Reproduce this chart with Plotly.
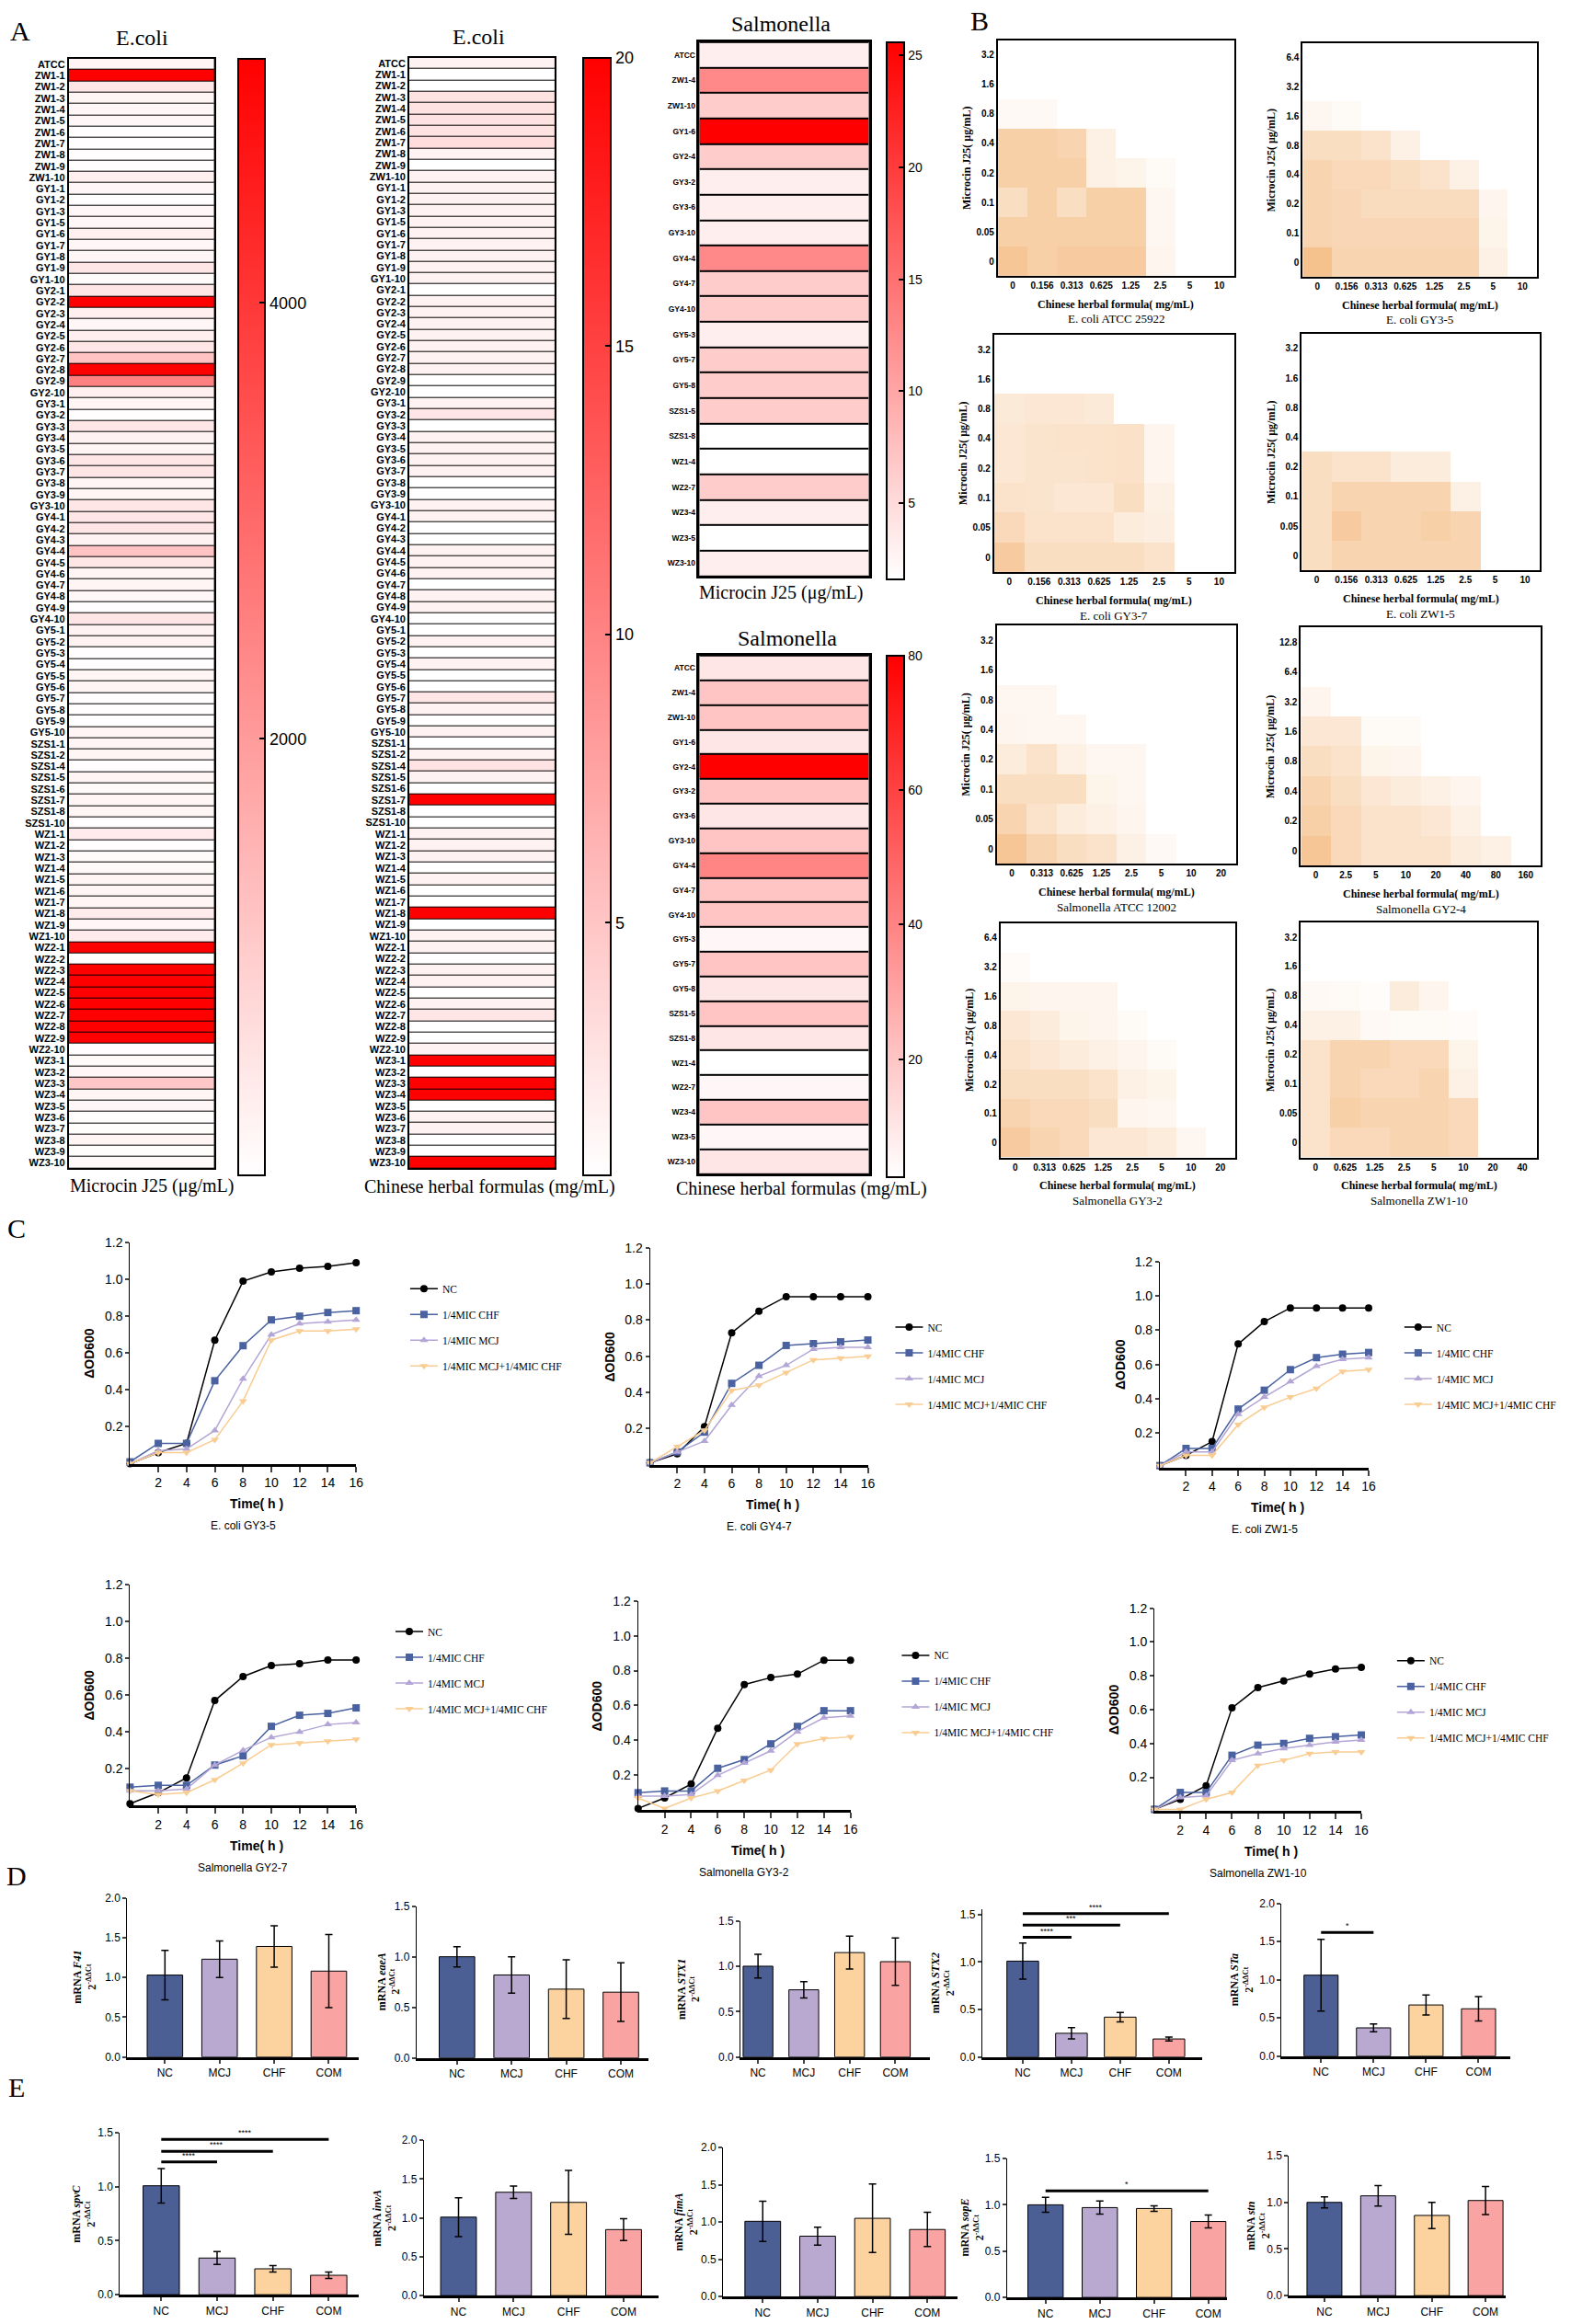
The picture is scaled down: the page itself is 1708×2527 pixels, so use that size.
import plotly.graph_objects as go

W, H = 1708, 2527

SERIF = "Liberation Serif, Times New Roman, serif"
SANS = "Liberation Sans, Arial, sans-serif"
NARROW = "Liberation Sans Narrow, Arial Narrow, Liberation Sans, sans-serif"

# ---------------- Panel A : MIC heat maps ----------------
ecoli_strains = ["ATCC", "ZW1-1", "ZW1-2", "ZW1-3", "ZW1-4", "ZW1-5", "ZW1-6", "ZW1-7", "ZW1-8", "ZW1-9", "ZW1-10",
                 "GY1-1", "GY1-2", "GY1-3", "GY1-5", "GY1-6", "GY1-7", "GY1-8", "GY1-9", "GY1-10",
                 "GY2-1", "GY2-2", "GY2-3", "GY2-4", "GY2-5", "GY2-6", "GY2-7", "GY2-8", "GY2-9", "GY2-10",
                 "GY3-1", "GY3-2", "GY3-3", "GY3-4", "GY3-5", "GY3-6", "GY3-7", "GY3-8", "GY3-9", "GY3-10",
                 "GY4-1", "GY4-2", "GY4-3", "GY4-4", "GY4-5", "GY4-6", "GY4-7", "GY4-8", "GY4-9", "GY4-10",
                 "GY5-1", "GY5-2", "GY5-3", "GY5-4", "GY5-5", "GY5-6", "GY5-7", "GY5-8", "GY5-9", "GY5-10",
                 "SZS1-1", "SZS1-2", "SZS1-4", "SZS1-5", "SZS1-6", "SZS1-7", "SZS1-8", "SZS1-10",
                 "WZ1-1", "WZ1-2", "WZ1-3", "WZ1-4", "WZ1-5", "WZ1-6", "WZ1-7", "WZ1-8", "WZ1-9", "WZ1-10",
                 "WZ2-1", "WZ2-2", "WZ2-3", "WZ2-4", "WZ2-5", "WZ2-6", "WZ2-7", "WZ2-8", "WZ2-9", "WZ2-10",
                 "WZ3-1", "WZ3-2", "WZ3-3", "WZ3-4", "WZ3-5", "WZ3-6", "WZ3-7", "WZ3-8", "WZ3-9", "WZ3-10"]

ecoli_mcj = [200,
             5120, 500, 200, 160, 160, 40, 40, 40, 40, 320,
             160, 40, 160, 160, 320, 160, 160, 500, 100,
             500, 5120, 320, 160, 320, 500, 1200, 5120, 2560, 320,
             200, 40, 500, 260, 200, 500, 500, 200, 200, 500,
             500, 500, 260, 1200, 500, 200, 200, 160, 40, 500,
             260, 260, 40, 40, 200, 200, 40, 40, 40, 200,
             200, 200, 40, 200, 100, 200, 200, 40,
             400, 40, 100, 100, 200, 200, 200, 400, 160, 400,
             5120, 40, 5120, 5120, 5120, 5120, 5120, 5120, 5120, 40,
             100, 160, 1100, 200, 160, 60, 60, 200, 60, 100]

ecoli_chf = [1.6,
             0.625, 0.625, 2.8, 2.8, 2.8, 2.8, 3.2, 1.6, 0.625, 1.6,
             1.6, 1.6, 1.6, 1.6, 1.6, 1.6, 1.6, 1.6, 1.6,
             0.625, 1.6, 1.6, 1.6, 1.6, 1.6, 1.6, 1.6, 0.625, 0.625,
             1.6, 2.5, 0.625, 1.6, 1.6, 1.6, 1.6, 0.625, 0.625, 1.6,
             1.6, 0.625, 0.625, 1.6, 1.6, 1.6, 0.625, 1.6, 1.6, 0.625,
             0.625, 1.6, 0.625, 1.6, 0.625, 0.625, 2.5, 1.6, 0.625, 1.6,
             0.625, 1.6, 2.8, 1.6, 0.625, 20, 0.625, 0.625,
             1.6, 1.6, 1.6, 0.625, 1.6, 0.625, 0.625, 20, 0.625, 1.6,
             1.6, 0.625, 1.6, 1.6, 0.625, 1.6, 2.5, 0.625, 0.625, 1.6,
             20, 0.625, 20, 20, 0.625, 1.6, 1.6, 0.625, 0.625, 20]

salm_strains = ["ATCC", "ZW1-4", "ZW1-10", "GY1-6", "GY2-4", "GY3-2", "GY3-6", "GY3-10", "GY4-4", "GY4-7",
                "GY4-10", "GY5-3", "GY5-7", "GY5-8", "SZS1-5", "SZS1-8", "WZ1-4", "WZ2-7", "WZ3-4", "WZ3-5", "WZ3-10"]
salm_mcj = [3.2, 12.8, 6.4, 25.6, 6.4, 3.2, 3.2, 3.2, 12.8, 6.4, 6.4, 3.2, 6.4, 6.4, 6.4, 1.6, 1.6, 6.4, 3.2, 1.6, 3.2]
salm_chf = [10, 20, 20, 10, 80, 20, 10, 20, 40, 20, 20, 5, 20, 10, 20, 10, 2.5, 5, 20, 5, 10]

# ---------------- Panel B : checkerboard assays ----------------
chf_conc_a = ["0", "0.156", "0.313", "0.625", "1.25", "2.5", "5", "10"]
chf_conc_b = ["0", "0.313", "0.625", "1.25", "2.5", "5", "10", "20"]
chf_conc_c = ["0", "2.5", "5", "10", "20", "40", "80", "160"]
chf_conc_d = ["0", "0.625", "1.25", "2.5", "5", "10", "20", "40"]
mcj_conc_a = ["0", "0.05", "0.1", "0.2", "0.4", "0.8", "1.6", "3.2"]
mcj_conc_b = ["0", "0.1", "0.2", "0.4", "0.8", "1.6", "3.2", "6.4"]
mcj_conc_c = ["0", "0.2", "0.4", "0.8", "1.6", "3.2", "6.4", "12.8"]

# rows go from MCJ = 0 (bottom) upwards
grid_ecoli_atcc = [[0.60, 0.50, 0.55, 0.55, 0.55, 0.10, 0, 0],
                   [0.50, 0.50, 0.50, 0.50, 0.50, 0.08, 0, 0],
                   [0.35, 0.50, 0.35, 0.50, 0.50, 0.08, 0, 0],
                   [0.50, 0.50, 0.50, 0.15, 0.12, 0.05, 0, 0],
                   [0.50, 0.50, 0.45, 0.15, 0, 0, 0, 0],
                   [0.06, 0.06, 0, 0, 0, 0, 0, 0],
                   [0, 0, 0, 0, 0, 0, 0, 0],
                   [0, 0, 0, 0, 0, 0, 0, 0]]
grid_ecoli_gy35 = [[0.65, 0.45, 0.45, 0.45, 0.45, 0.45, 0.15, 0],
                   [0.45, 0.42, 0.42, 0.42, 0.42, 0.42, 0.12, 0],
                   [0.45, 0.42, 0.38, 0.38, 0.38, 0.38, 0.10, 0],
                   [0.45, 0.40, 0.40, 0.35, 0.30, 0.15, 0, 0],
                   [0.35, 0.35, 0.30, 0.15, 0, 0, 0, 0],
                   [0.08, 0.05, 0, 0, 0, 0, 0, 0],
                   [0, 0, 0, 0, 0, 0, 0, 0],
                   [0, 0, 0, 0, 0, 0, 0, 0]]
grid_ecoli_gy37 = [[0.55, 0.35, 0.35, 0.35, 0.35, 0.30, 0, 0],
                   [0.40, 0.30, 0.30, 0.30, 0.20, 0.18, 0, 0],
                   [0.30, 0.28, 0.25, 0.25, 0.35, 0.15, 0, 0],
                   [0.25, 0.28, 0.28, 0.30, 0.32, 0.10, 0, 0],
                   [0.25, 0.28, 0.30, 0.30, 0.32, 0.10, 0, 0],
                   [0.22, 0.25, 0.25, 0.22, 0, 0, 0, 0],
                   [0, 0, 0, 0, 0, 0, 0, 0],
                   [0, 0, 0, 0, 0, 0, 0, 0]]
grid_ecoli_zw15 = [[0.35, 0.45, 0.45, 0.45, 0.45, 0.45, 0, 0],
                   [0.35, 0.55, 0.45, 0.45, 0.50, 0.45, 0, 0],
                   [0.35, 0.45, 0.45, 0.45, 0.45, 0.15, 0, 0],
                   [0.35, 0.30, 0.30, 0.20, 0.20, 0, 0, 0],
                   [0, 0, 0, 0, 0, 0, 0, 0],
                   [0, 0, 0, 0, 0, 0, 0, 0],
                   [0, 0, 0, 0, 0, 0, 0, 0],
                   [0, 0, 0, 0, 0, 0, 0, 0]]
grid_salm_atcc = [[0.60, 0.45, 0.35, 0.30, 0.15, 0.06, 0, 0],
                  [0.45, 0.30, 0.20, 0.15, 0.10, 0, 0, 0],
                  [0.35, 0.35, 0.35, 0.12, 0.08, 0, 0, 0],
                  [0.20, 0.30, 0.15, 0.08, 0.08, 0, 0, 0],
                  [0.10, 0.08, 0.08, 0, 0, 0, 0, 0],
                  [0.08, 0.08, 0, 0, 0, 0, 0, 0],
                  [0, 0, 0, 0, 0, 0, 0, 0],
                  [0, 0, 0, 0, 0, 0, 0, 0]]
grid_salm_gy24 = [[0.60, 0.40, 0.30, 0.30, 0.30, 0.20, 0.15, 0],
                  [0.50, 0.40, 0.30, 0.30, 0.25, 0.15, 0, 0],
                  [0.45, 0.35, 0.25, 0.20, 0.15, 0.10, 0, 0],
                  [0.35, 0.30, 0.12, 0.10, 0, 0, 0, 0],
                  [0.25, 0.25, 0.05, 0.05, 0, 0, 0, 0],
                  [0.10, 0, 0, 0, 0, 0, 0, 0],
                  [0, 0, 0, 0, 0, 0, 0, 0],
                  [0, 0, 0, 0, 0, 0, 0, 0]]
grid_salm_gy32 = [[0.55, 0.45, 0.40, 0.25, 0.25, 0.20, 0.08, 0],
                  [0.45, 0.40, 0.40, 0.35, 0.10, 0.08, 0, 0],
                  [0.35, 0.35, 0.35, 0.30, 0.15, 0.12, 0, 0],
                  [0.30, 0.25, 0.20, 0.15, 0.10, 0.05, 0, 0],
                  [0.25, 0.20, 0.12, 0.10, 0.05, 0, 0, 0],
                  [0.12, 0.10, 0.10, 0.10, 0, 0, 0, 0],
                  [0.04, 0, 0, 0, 0, 0, 0, 0],
                  [0, 0, 0, 0, 0, 0, 0, 0]]
grid_salm_zw110 = [[0.30, 0.40, 0.40, 0.45, 0.45, 0.40, 0, 0],
                   [0.30, 0.50, 0.45, 0.45, 0.45, 0.40, 0, 0],
                   [0.30, 0.45, 0.40, 0.40, 0.45, 0.15, 0, 0],
                   [0.30, 0.45, 0.45, 0.40, 0.40, 0.12, 0, 0],
                   [0.15, 0.15, 0.06, 0.05, 0.05, 0.04, 0, 0],
                   [0.06, 0.05, 0.03, 0.20, 0.10, 0, 0, 0],
                   [0, 0, 0, 0, 0, 0, 0, 0],
                   [0, 0, 0, 0, 0, 0, 0, 0]]

# ---------------- Panel C : growth curves ----------------
time_h = [0, 2, 4, 6, 8, 10, 12, 14, 16]
time_ticks = [2, 4, 6, 8, 10, 12, 14, 16]
od_ticks = [0.2, 0.4, 0.6, 0.8, 1.0, 1.2]
series_names = ["NC", "1/4MIC CHF", "1/4MIC MCJ", "1/4MIC MCJ+1/4MIC CHF"]

gy35_nc = [0.0, 0.06, 0.11, 0.67, 0.99, 1.04, 1.06, 1.07, 1.09]
gy35_chf = [0.01, 0.11, 0.11, 0.45, 0.64, 0.78, 0.80, 0.82, 0.83]
gy35_mcj = [0.0, 0.07, 0.08, 0.18, 0.46, 0.70, 0.76, 0.77, 0.78]
gy35_com = [0.0, 0.06, 0.06, 0.13, 0.34, 0.67, 0.72, 0.72, 0.73]

gy47_nc = [0.01, 0.06, 0.21, 0.73, 0.85, 0.93, 0.93, 0.93, 0.93]
gy47_chf = [0.01, 0.07, 0.18, 0.45, 0.55, 0.66, 0.67, 0.68, 0.69]
gy47_mcj = [0.01, 0.07, 0.13, 0.33, 0.49, 0.55, 0.64, 0.65, 0.65]
gy47_com = [0.01, 0.10, 0.19, 0.41, 0.44, 0.51, 0.58, 0.59, 0.60]

zw15_nc = [0.01, 0.07, 0.15, 0.72, 0.85, 0.93, 0.93, 0.93, 0.93]
zw15_chf = [0.01, 0.11, 0.11, 0.34, 0.45, 0.57, 0.64, 0.66, 0.67]
zw15_mcj = [0.01, 0.09, 0.09, 0.31, 0.41, 0.50, 0.59, 0.63, 0.64]
zw15_com = [0.01, 0.07, 0.07, 0.25, 0.35, 0.41, 0.46, 0.56, 0.57]

gy27_nc = [0.01, 0.07, 0.15, 0.57, 0.70, 0.76, 0.77, 0.79, 0.79]
gy27_chf = [0.10, 0.11, 0.11, 0.22, 0.27, 0.43, 0.49, 0.50, 0.53]
gy27_mcj = [0.08, 0.08, 0.09, 0.22, 0.30, 0.37, 0.40, 0.44, 0.45]
gy27_com = [0.08, 0.06, 0.07, 0.14, 0.23, 0.33, 0.34, 0.35, 0.36]

gy32_nc = [0.01, 0.07, 0.15, 0.47, 0.72, 0.76, 0.78, 0.86, 0.86]
gy32_chf = [0.10, 0.11, 0.11, 0.24, 0.29, 0.38, 0.48, 0.57, 0.57]
gy32_mcj = [0.08, 0.08, 0.09, 0.20, 0.27, 0.34, 0.45, 0.53, 0.54]
gy32_com = [0.07, 0.01, 0.07, 0.11, 0.17, 0.23, 0.38, 0.41, 0.42]

zw110_nc = [0.01, 0.07, 0.15, 0.61, 0.73, 0.77, 0.81, 0.84, 0.85]
zw110_chf = [0.01, 0.11, 0.11, 0.33, 0.39, 0.40, 0.43, 0.44, 0.45]
zw110_mcj = [0.01, 0.08, 0.09, 0.30, 0.34, 0.37, 0.39, 0.41, 0.42]
zw110_com = [0.01, 0.01, 0.07, 0.11, 0.27, 0.30, 0.34, 0.35, 0.35]

# ---------------- Panels D / E : qPCR ----------------
groups = ["NC", "MCJ", "CHF", "COM"]

f41_mean = [1.03, 1.23, 1.39, 1.08]
f41_err = [0.31, 0.23, 0.26, 0.46]
eaea_mean = [1.00, 0.82, 0.68, 0.65]
eaea_err = [0.10, 0.18, 0.29, 0.29]
stx1_mean = [1.00, 0.74, 1.15, 1.05]
stx1_err = [0.13, 0.09, 0.18, 0.26]
stx2_mean = [1.01, 0.25, 0.42, 0.19]
stx2_err = [0.19, 0.06, 0.05, 0.02]
sta_mean = [1.06, 0.37, 0.67, 0.62]
sta_err = [0.47, 0.05, 0.13, 0.16]

spvc_mean = [1.01, 0.34, 0.24, 0.18]
spvc_err = [0.16, 0.06, 0.03, 0.03]
inva_mean = [1.01, 1.33, 1.20, 0.85]
inva_err = [0.25, 0.08, 0.41, 0.14]
fima_mean = [1.01, 0.81, 1.05, 0.90]
fima_err = [0.27, 0.12, 0.46, 0.23]
sope_mean = [1.00, 0.97, 0.96, 0.82]
sope_err = [0.08, 0.07, 0.03, 0.07]
stn_mean = [1.00, 1.07, 0.86, 1.02]
stn_err = [0.06, 0.11, 0.14, 0.15]

# significance brackets (always drawn from NC)
stx2_sig_to = ["MCJ", "CHF", "COM"]
stx2_sig_y = [1.26, 1.39, 1.51]
stx2_sig_mark = ["****", "***", "****"]
sta_sig_to = ["MCJ"]
sta_sig_y = [1.62]
sta_sig_mark = ["*"]
spvc_sig_to = ["MCJ", "CHF", "COM"]
spvc_sig_y = [1.23, 1.33, 1.44]
spvc_sig_mark = ["****", "****", "****"]
sope_sig_to = ["COM"]
sope_sig_y = [1.15]
sope_sig_mark = ["*"]

REDS = [[0, "#FFFFFF"], [1, "#FF0000"]]
ORANGES = [[0, "#FFFFFF"], [1, "#F0A050"]]
line_colors = ["#000000", "#4A62A0", "#B3A6D6", "#F9CC92"]
line_symbols = ["circle", "square", "triangle-up", "triangle-down"]
bar_colors = ["#4B5F95", "#B9A9D1", "#FCD39E", "#F9A3A2"]

fig = go.Figure()
axes = {}
legends = {}
shapes = []
notes = []
count = [0]


# Creates a new x/y axis pair placed at a pixel box of the page
def add_axes(x0, x1, y0, y1, xa, ya):
    count[0] += 1
    k = "" if count[0] == 1 else str(count[0])
    axes["xaxis" + k] = dict(xa, domain=[x0 / W, x1 / W], anchor="y" + k)
    axes["yaxis" + k] = dict(ya, domain=[1 - y1 / H, 1 - y0 / H], anchor="x" + k)
    return "x" + k, "y" + k


def label(x, y, s, size, family=SERIF, angle=0, bold=False, anchor="center"):
    notes.append(dict(x=x / W, y=1 - y / H, xref="paper", yref="paper", text=s, showarrow=False,
                      textangle=angle, xanchor=anchor, yanchor="middle",
                      font=dict(family=family, size=size, color="black", weight="bold" if bold else "normal")))


def strain_heatmap(box, strains, values, zmin, zmax, cb_x, cb_ticks, label_size, cb_font, gap, border):
    x0, x1, y0, y1 = box
    xr, yr = add_axes(x0, x1, y0, y1,
                      dict(range=[-0.5, 0.5], showticklabels=False, ticks="", showgrid=False, zeroline=False,
                           showline=True, mirror=True, linecolor="black", linewidth=border),
                      dict(type="category", autorange="reversed", tickmode="array", tickvals=strains, ticks="",
                           showgrid=False, zeroline=False, showline=True, mirror=True, linecolor="black",
                           linewidth=border,
                           tickfont=dict(family=SANS, size=label_size, color="black", weight="bold")))
    # black background shows through the row gaps as separator lines
    shapes.append(dict(type="rect", xref=xr + " domain", yref=yr + " domain", x0=0, x1=1, y0=0, y1=1,
                       fillcolor="black", line_width=0, layer="below"))
    fig.add_trace(go.Heatmap(z=[[v] for v in values], x=[0], y=strains, xaxis=xr, yaxis=yr,
                             zmin=zmin, zmax=zmax, colorscale=REDS, ygap=gap, hoverinfo="skip",
                             colorbar=dict(x=cb_x[0] / W, xanchor="left", xpad=0, y=1 - y0 / H, yanchor="top",
                                           ypad=0, len=y1 - y0, lenmode="pixels", thickness=cb_x[1] - cb_x[0],
                                           thicknessmode="pixels", outlinewidth=2, outlinecolor="black",
                                           tickmode="array", tickvals=cb_ticks, ticks="inside", ticklen=7,
                                           tickwidth=1.5, tickcolor="black",
                                           tickfont=dict(family=SANS, size=cb_font, color="black"))))


def checkerboard(box, grid, xlabels, ylabels, subtitle):
    x0, x1, y0, y1 = box
    common = dict(type="category", showline=True, mirror=True, linecolor="black", linewidth=2, ticks="",
                  showgrid=False, zeroline=False, tickmode="array",
                  tickfont=dict(family=SANS, size=10, color="black", weight="bold"))
    xr, yr = add_axes(x0, x1, y0, y1, dict(common, tickvals=xlabels), dict(common, tickvals=ylabels))
    fig.add_trace(go.Heatmap(z=grid, x=xlabels, y=ylabels, xaxis=xr, yaxis=yr, zmin=0, zmax=1,
                             colorscale=ORANGES, showscale=False, hoverinfo="skip"))
    label(x0 - 34, (y0 + y1) / 2, "Microcin J25( μg/mL)", 12, angle=-90, bold=True)
    label((x0 + x1) / 2, y1 + 31, "Chinese herbal formula( mg/mL)", 12, bold=True)
    label((x0 + x1) / 2, y1 + 47, subtitle, 13)


def growth(box, curves, legend_id, legend_xy, subtitle):
    x0, x1, y0, y1 = box
    tick_font = dict(family=NARROW, size=14, color="black")
    xr, yr = add_axes(x0, x1, y0, y1,
                      dict(range=[0, 16], tickmode="array", tickvals=time_ticks, ticks="outside", ticklen=6,
                           tickwidth=1.5, showline=True, linewidth=3, linecolor="black", showgrid=False,
                           zeroline=False, tickfont=tick_font),
                      dict(range=[0, 1.2], tickmode="array", tickvals=od_ticks, tickformat=".1f", ticks="outside",
                           ticklen=4, tickwidth=1.5, showline=True, linewidth=1.2, linecolor="black",
                           showgrid=False, zeroline=False, tickfont=tick_font))
    for name, vals, color, symbol in zip(series_names, curves, line_colors, line_symbols):
        fig.add_trace(go.Scatter(x=time_h, y=vals, mode="lines+markers", name=name, xaxis=xr, yaxis=yr,
                                 line=dict(color=color, width=1.5), cliponaxis=False,
                                 marker=dict(color=color, symbol=symbol, size=8),
                                 legend=legend_id, legendgroup=legend_id + name))
    legends[legend_id] = dict(x=(legend_xy[0] - 20) / W, y=1 - (legend_xy[1] - 11) / H, xanchor="left",
                              yanchor="top", bgcolor="rgba(0,0,0,0)", tracegroupgap=9,
                              font=dict(family=SERIF, size=11.5, color="black"))
    label(x0 - 44, (y0 + y1) / 2, "ΔOD600", 14, family=NARROW, angle=-90, bold=True)
    label((x0 + x1) / 2 + 15, y1 + 44, "Time( h )", 14, family=NARROW, bold=True)
    label((x0 + x1) / 2, y1 + 68, subtitle, 12, family=NARROW)


def expression(box, xrange, yrange, yticks, means, errs, gene, title_x, sig_to=(), sig_y=(), sig_mark=()):
    x0, x1, y0, y1 = box
    tick_font = dict(family=NARROW, size=12, color="black")
    xr, yr = add_axes(x0, x1, y0, y1,
                      dict(type="category", range=xrange, ticks="outside", ticklen=4, tickwidth=1.5,
                           showline=True, linewidth=3, linecolor="black", showgrid=False, zeroline=False,
                           tickfont=tick_font),
                      dict(range=yrange, tickmode="array", tickvals=yticks, tickformat=".1f", ticks="outside",
                           ticklen=4, tickwidth=1.5, showline=True, linewidth=1.2, linecolor="black",
                           showgrid=False, zeroline=False, tickfont=tick_font))
    fig.add_trace(go.Bar(x=groups, y=means, width=0.65, xaxis=xr, yaxis=yr, showlegend=False,
                         marker=dict(color=bar_colors, line=dict(color="black", width=1)),
                         error_y=dict(type="data", array=errs, color="black", thickness=1.5, width=4)))
    for target, h, mark in zip(sig_to, sig_y, sig_mark):
        fig.add_trace(go.Scatter(x=["NC", target], y=[h, h], mode="lines", xaxis=xr, yaxis=yr,
                                 showlegend=False, line=dict(color="black", width=3), cliponaxis=False))
        notes.append(dict(x=groups.index(target) / 2, y=h, xref=xr, yref=yr, text=mark, showarrow=False,
                          yshift=7, font=dict(family=NARROW, size=9, color="black")))
    label(title_x, (y0 + y1) / 2, "<b>mRNA <i>%s</i></b><br><b>2<sup>-ΔΔCt</sup></b>" % gene, 12,
          angle=-90)


ticks_15 = [0.0, 0.5, 1.0, 1.5]
ticks_20 = [0.0, 0.5, 1.0, 1.5, 2.0]

# ---- Panel A ----
label(22, 26, "A", 30)
strain_heatmap((75, 234, 56, 1270), ecoli_strains, ecoli_mcj, 0, 5120, (260, 289), [2000, 4000], 11, 18, 1, 1.5)
label(155, 33, "E.coli", 24)
label(166, 1289, "Microcin J25 (μg/mL)", 20)

strain_heatmap((447, 606, 55, 1270), ecoli_strains, ecoli_chf, 0.625, 20, (637, 667), [5, 10, 15, 20], 11, 18,
               1, 1.5)
label(523, 32, "E.coli", 24)
label(535, 1290, "Chinese herbal formulas (mg/mL)", 20)

strain_heatmap((764, 949, 38, 622), salm_strains, salm_mcj, 1.6, 25.6, (969, 988), [5, 10, 15, 20, 25], 8.5, 14,
               2, 2.5)
label(853, 18, "Salmonella", 24)
label(853, 640, "Microcin J25 (μg/mL)", 20)

strain_heatmap((764, 949, 709, 1276), salm_strains, salm_chf, 2.5, 80, (969, 988), [20, 40, 60, 80], 8.5, 14,
               2, 2.5)
label(860, 690, "Salmonella", 24)
label(876, 1292, "Chinese herbal formulas (mg/mL)", 20)

# ---- Panel B ----
label(1070, 15, "B", 30)
checkerboard((1090, 1348, 36, 294), grid_ecoli_atcc, chf_conc_a, mcj_conc_a, "E. coli ATCC 25922")
checkerboard((1423, 1679, 39, 295), grid_ecoli_gy35, chf_conc_a, mcj_conc_b, "E. coli GY3-5")
checkerboard((1086, 1348, 358, 618), grid_ecoli_gy37, chf_conc_a, mcj_conc_a, "E. coli GY3-7")
checkerboard((1422, 1682, 357, 616), grid_ecoli_zw15, chf_conc_a, mcj_conc_a, "E. coli ZW1-5")
checkerboard((1089, 1350, 676, 937), grid_salm_atcc, chf_conc_b, mcj_conc_a, "Salmonella ATCC 12002")
checkerboard((1421, 1683, 678, 939), grid_salm_gy24, chf_conc_c, mcj_conc_c, "Salmonella GY2-4")
checkerboard((1093, 1349, 1002, 1258), grid_salm_gy32, chf_conc_b, mcj_conc_b, "Salmonella GY3-2")
checkerboard((1421, 1679, 1001, 1258), grid_salm_zw110, chf_conc_d, mcj_conc_a, "Salmonella ZW1-10")

# ---- Panel C ----
label(18, 1335, "C", 30)
growth((142, 389, 1351, 1593), [gy35_nc, gy35_chf, gy35_mcj, gy35_com], "legend", (463, 1398), "E. coli GY3-5")
growth((710, 948, 1357, 1594), [gy47_nc, gy47_chf, gy47_mcj, gy47_com], "legend2", (993, 1440), "E. coli GY4-7")
growth((1267, 1495, 1372, 1597), [zw15_nc, zw15_chf, zw15_mcj, zw15_com], "legend3", (1549, 1440),
       "E. coli ZW1-5")
growth((142, 389, 1725, 1967), [gy27_nc, gy27_chf, gy27_mcj, gy27_com], "legend4", (447, 1773),
       "Salmonella GY2-7")
growth((697, 929, 1743, 1972), [gy32_nc, gy32_chf, gy32_mcj, gy32_com], "legend5", (1000, 1799),
       "Salmonella GY3-2")
growth((1261, 1487, 1751, 1973), [zw110_nc, zw110_chf, zw110_mcj, zw110_com], "legend6", (1541, 1805),
       "Salmonella ZW1-10")

# ---- Panel D ----
label(18, 2044, "D", 30)
expression((139, 392, 2068, 2242), [-0.69, 3.55], [0, 2.0], ticks_20, f41_mean, f41_err, "F41", 93)
expression((455, 708, 2077, 2243), [-0.74, 3.5], [0, 1.5], ticks_15, eaea_mean, eaea_err, "eaeA", 425)
expression((809, 1016, 2093, 2242), [-0.38, 3.76], [0, 1.5], ticks_15, stx1_mean, stx1_err, "STX1", 752)
expression((1073, 1313, 2080, 2242), [-0.83, 3.68], [0, 1.56], ticks_15, stx2_mean, stx2_err, "STX2", 1030,
           stx2_sig_to, stx2_sig_y, stx2_sig_mark)
expression((1400, 1650, 2074, 2241), [-0.75, 3.61], [0, 2.0], ticks_20, sta_mean, sta_err, "STa", 1356,
           sta_sig_to, sta_sig_y, sta_sig_mark)

# ---- Panel E ----
label(18, 2275, "E", 30)
expression((131, 392, 2325, 2502), [-0.74, 3.54], [0, 1.5], ticks_15, spvc_mean, spvc_err, "spvC", 92,
           spvc_sig_to, spvc_sig_y, spvc_sig_mark)
expression((463, 719, 2333, 2503), [-0.63, 3.63], [0, 2.0], ticks_20, inva_mean, inva_err, "invA", 420)
expression((790, 1046, 2341, 2504), [-0.72, 3.55], [0, 2.0], ticks_20, fima_mean, fima_err, "fimA", 750)
expression((1100, 1340, 2353, 2505), [-0.71, 3.34], [0, 1.5], ticks_15, sope_mean, sope_err, "sopE", 1062,
           sope_sig_to, sope_sig_y, sope_sig_mark)
expression((1408, 1645, 2350, 2503), [-0.66, 3.38], [0, 1.5], ticks_15, stn_mean, stn_err, "stn", 1375)

fig.update_layout(width=W, height=H, margin=dict(l=0, r=0, t=0, b=0), paper_bgcolor="white",
                  plot_bgcolor="white", showlegend=True, annotations=notes, shapes=shapes, **axes, **legends)

# drop the default page margin so the figure starts at the window corner
fig.write_html("out.html", config={"displayModeBar": False},
               post_script="document.body.style.margin='0';")
